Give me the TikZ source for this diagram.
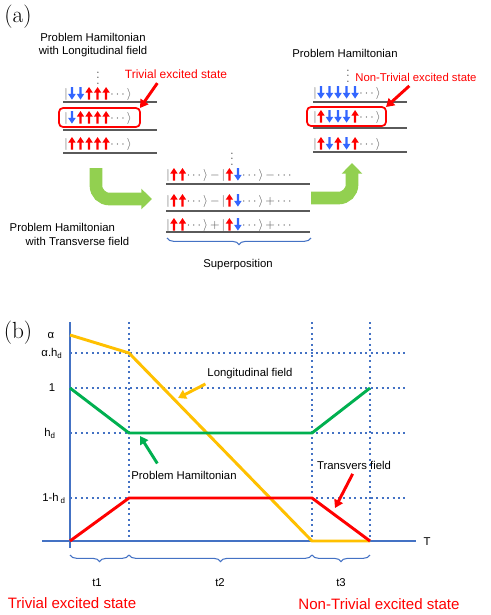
\documentclass[tikz,border=0pt]{standalone}
\usepackage{fontspec}
\usepackage{amsmath,amssymb}
\usetikzlibrary{arrows.meta,decorations.pathreplacing}
\newfontfamily\arialfont{Liberation Sans}
\definecolor{spinred}{RGB}{255,0,0}
\definecolor{spinblue}{RGB}{51,102,255}
\definecolor{ketgray}{RGB}{90,90,90}
\definecolor{axisblue}{RGB}{68,114,196}
\definecolor{fieldyellow}{RGB}{255,192,0}
\definecolor{hamgreen}{RGB}{0,176,80}
\definecolor{flowgreen}{RGB}{146,208,80}

\newcommand{\spinup}{\tikz[baseline=0pt]{\pgftransformreset\path (-3.2pt,0pt) (3.2pt,0pt);
  \fill[spinred, draw=none, sharp corners] (-0.85pt,-1.2pt) -- (-0.85pt,4pt) -- (-2.8pt,4pt) -- (0pt,8.2pt) -- (2.8pt,4pt) -- (0.85pt,4pt) -- (0.85pt,-1.2pt) -- cycle;}}
\newcommand{\spindn}{\tikz[baseline=0pt]{\pgftransformreset\path (-3.2pt,0pt) (3.2pt,0pt);
  \fill[spinblue, draw=none, sharp corners] (-0.85pt,8.2pt) -- (-0.85pt,3pt) -- (-2.8pt,3pt) -- (0pt,-1.2pt) -- (2.8pt,3pt) -- (0.85pt,3pt) -- (0.85pt,8.2pt) -- cycle;}}
\newcommand{\spinket}[1]{\textcolor{ketgray}{$|$}#1\textcolor{ketgray}{$\cdots\rangle$}}
\newcommand{\opsign}[1]{\textcolor{ketgray}{$\,#1\,$}}

\tikzset{
  txt/.style={font=\arialfont\fontsize{8.5}{10}\selectfont},
  redtxt/.style={font=\arialfont\fontsize{9}{11}\selectfont, text=spinred},
  bigred/.style={font=\arialfont\fontsize{11.3}{13}\selectfont, text=spinred},
  ketrow/.style={anchor=west, inner sep=0pt, font=\fontsize{9}{11}\selectfont},
  vdotsnode/.style={text=ketgray, inner sep=0pt},
  level/.style={draw=ketgray, line width=1pt},
  chosen/.style={draw=spinred, line width=1.3pt, rounded corners=3pt},
  pointer/.style={line width=2.2pt, -{Triangle[length=6pt,width=7pt]}},
  flow/.style={flowgreen, line width=9.5pt, rounded corners=10pt, -{Triangle[length=8pt,width=15pt]}},
  dotgrid/.style={axisblue, line width=1.5pt, dash pattern=on 1.5pt off 2.6pt},
  axisline/.style={axisblue, line width=2.2pt},
  curve/.style={line width=2.2pt, line join=round},
  spanbrace/.style={axisblue, line width=0.8pt, decorate, decoration={brace,amplitude=5pt,mirror}}
}

\begin{document}
\begin{tikzpicture}[x=0.75pt,y=0.75pt,yscale=-1,xscale=1]
\useasboundingbox (0,0) rectangle (491,615);

% Panel labels
\node (pa) at (18,17) {\fontsize{17.5}{20}\selectfont (a)};
\node (pb) at (18,333) {\fontsize{17.5}{20}\selectfont (b)};

%%% (a) left column: longitudinal field
\node [txt, align=center] (lhead) at (93,45) {Problem Hamiltonian\\with Longitudinal field};
\node [vdotsnode] (ldots) at (98,74) {$\vdots$};
\node [redtxt] (triv) at (176,74) {Trivial excited state};
\node [ketrow] (lrow1) at (64,94) {\spinket{\spindn\spindn\spinup\spinup\spinup}};
\node [ketrow] (lrow2) at (64,118) {\spinket{\spindn\spinup\spinup\spinup\spinup}};
\node [ketrow] (lrow3) at (64,144) {\spinket{\spinup\spinup\spinup\spinup\spinup}};
\draw [chosen] (59,108) rectangle (140,127);
\coordinate (lbox) at (140,108);
\draw [level] (63,102) -- (157,102);
\draw [level] (63,130) -- (157,130);
\draw [level] (63,153) -- (157,153);
\draw [pointer, spinred] ([xshift=-14pt]triv.south) -- (lbox);

%%% (a) right column: problem Hamiltonian
\node [txt] (rhead) at (345,53) {Problem Hamiltonian};
\node [vdotsnode] (rdots) at (348,72) {$\vdots$};
\node [redtxt, font=\arialfont\fontsize{8.5}{10}\selectfont] (ntriv) at (416,77) {Non-Trivial excited state};
\node [ketrow] (rrow1) at (313,93) {\spinket{\spindn\spindn\spindn\spindn\spindn}};
\node [ketrow] (rrow2) at (313,117) {\spinket{\spinup\spindn\spindn\spindn\spinup}};
\node [ketrow] (rrow3) at (313,144) {\spinket{\spinup\spindn\spinup\spindn\spinup}};
\draw [chosen] (307,107) rectangle (386,126);
\coordinate (rbox) at (386,107);
\draw [level] (313,102) -- (407,102);
\draw [level] (313,128) -- (407,128);
\draw [level] (313,152) -- (407,152);
\draw [pointer, spinred] ([xshift=-5pt]ntriv.south) -- (rbox);

%%% (a) middle column: transverse field
\node [vdotsnode] (mdots) at (232,155) {$\vdots$};
\node [ketrow] (mrow1) at (166,175) {\spinket{\spinup\spinup}\opsign{-}\spinket{\spinup\spindn}\opsign{-\cdots}};
\node [ketrow] (mrow2) at (166,201) {\spinket{\spinup\spinup}\opsign{-}\spinket{\spinup\spindn}\opsign{+\cdots}};
\node [ketrow] (mrow3) at (166,225) {\spinket{\spinup\spinup}\opsign{+}\spinket{\spinup\spindn}\opsign{+\cdots}};
\draw [level] (166,184) -- (310,184);
\draw [level] (166,211) -- (310,211);
\draw [level] (166,232) -- (310,232);
\draw [spanbrace] (167,238) -- (311,238);
\node [txt] (super) at (238,265) {Superposition};
\node [txt, anchor=west] (thead1) at (5,227) {Problem Hamiltonian};
\node [txt, anchor=west] (thead2) at (21,241) {with Transverse field};

% green flow arrows
\coordinate (flowin) at (96,168);
\coordinate (flowmid) at (152,199);
\coordinate (flowout) at (311,198);
\coordinate (flowtop) at (352,163);
\draw [flow] (flowin) |- (flowmid);
\draw [flow] (flowout) -| (flowtop);

%%% (b) schedule
% grid
\foreach \gy in {353,388,433,498}
  \draw [dotgrid] (70,\gy) -- (407,\gy);
\foreach \gx in {129,312,370}
  \draw [dotgrid] (\gx,322) -- (\gx,541);
% axes
\draw [axisline] (70,322) -- (70,548);
\draw [axisline] (42,541) -- (416,541);
\node [txt] (tlab) at (427,542) {T};
% tick labels
\node [txt] (ya) at (51,335) {α};
\node [txt] (yah) at (52,353) {α.h\textsubscript{d}};
\node [txt] (y1) at (52,388) {1};
\node [txt] (yh) at (50,433) {h\textsubscript{d}};
\node [txt] (y1h) at (54,498) {1-h\,\textsubscript{d}};

% curves
\draw [curve, fieldyellow] (70,335) -- (129,353) -- (312,541) -- (370,541);
\draw [curve, hamgreen] (70,388) -- (129,433) -- (312,433) -- (370,388);
\draw [curve, spinred] (70,541) -- (129,498) -- (312,498) -- (370,541);

% curve labels
\node [txt] (lfield) at (250,374) {Longitudinal field};
\node [txt] (pham) at (184,475) {Problem Hamiltonian};
\node [txt] (tfield) at (354,465) {Transvers field};
\coordinate (lfieldtip) at (178,398);
\coordinate (phamtip) at (140,436);
\coordinate (tfieldtip) at (335,508);
\draw [pointer, fieldyellow] ([xshift=2pt]lfield.south west) -- (lfieldtip);
\draw [pointer, hamgreen] ([xshift=-20pt,yshift=-2pt]pham.north) -- (phamtip);
\draw [pointer, spinred] ([xshift=-1pt]tfield.south) -- (tfieldtip);

% time intervals
\draw [spanbrace] (70,555) -- (129,555);
\draw [spanbrace] (129,555) -- (312,555);
\draw [spanbrace] (312,555) -- (370,555);
\node [txt] (t1) at (97,583) {t1};
\node [txt] (t2) at (220,583) {t2};
\node [txt] (t3) at (341,583) {t3};
\node [bigred] (trivb) at (72,603) {Trivial excited state};
\node [bigred] (ntrivb) at (379,604) {Non-Trivial excited state};

\end{tikzpicture}
\end{document}
